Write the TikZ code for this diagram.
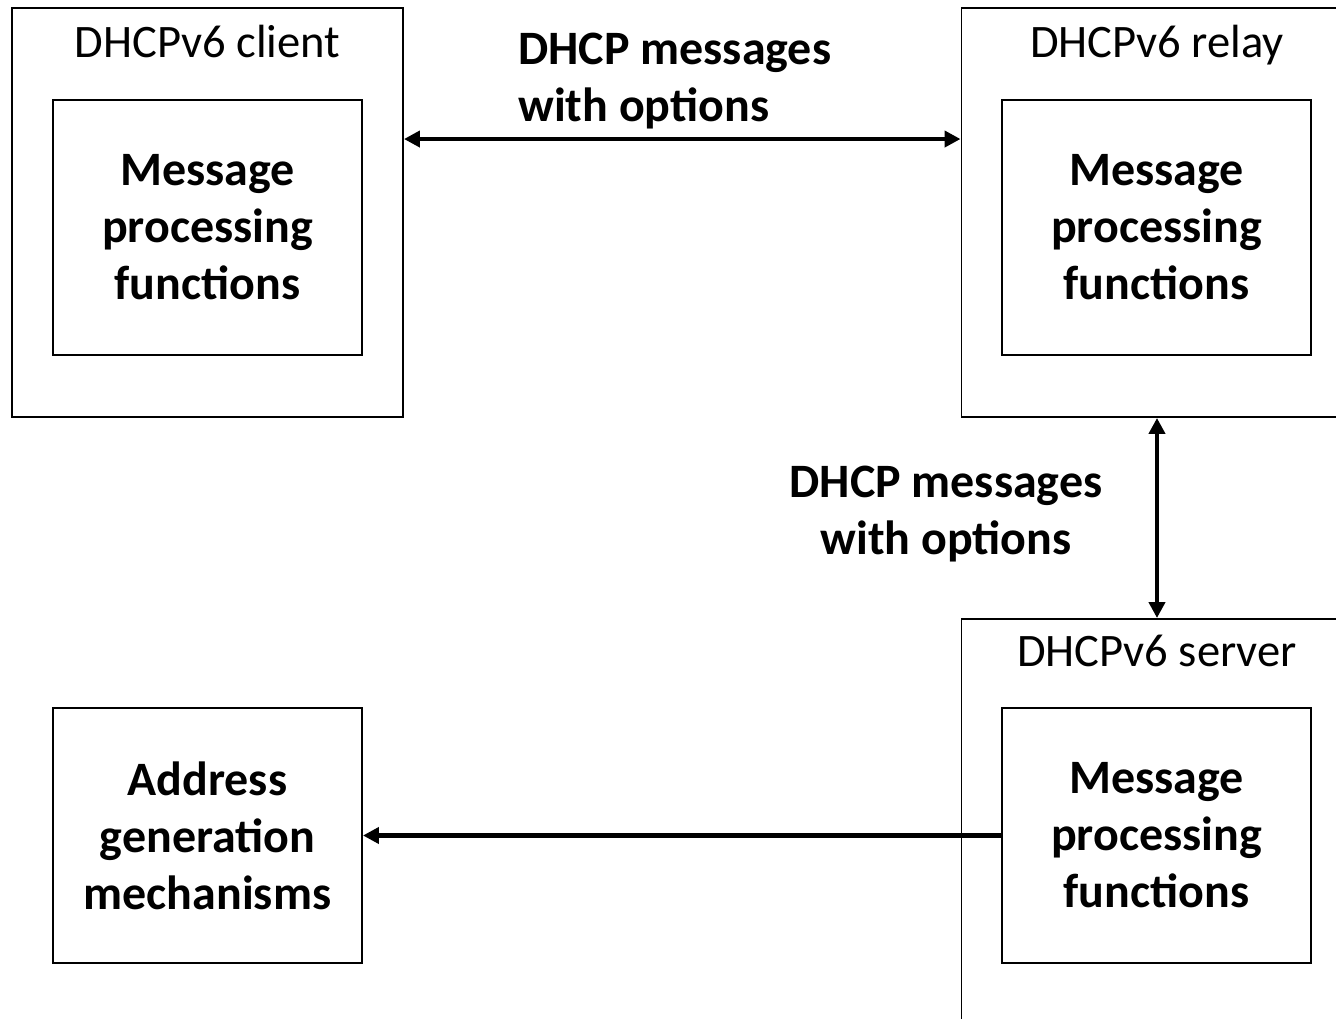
\documentclass[tikz,border=0pt]{standalone}
\usepackage{fontspec}
\setmainfont{Carlito}
\usetikzlibrary{arrows.meta,positioning}
\tikzset{
  host/.style  = {draw, line width=1.1pt, minimum width=78.2mm, minimum height=81.8mm,
                  inner sep=0pt},
  func/.style  = {draw, line width=1.1pt, minimum width=61.8mm, minimum height=51mm,
                  align=center, font=\fontsize{27.3}{32.5}\selectfont\bfseries},
  title/.style = {font=\fontsize{26.5}{30}\selectfont, anchor=base},
  msg/.style   = {font=\fontsize{27.3}{32.5}\selectfont\bfseries, inner sep=0pt},
  link/.style  = {line width=2.4pt, {Triangle[length=3.2mm,width=3.2mm]}-{Triangle[length=3.2mm,width=3.2mm]}},
  onelink/.style = {line width=2.4pt, -{Triangle[length=3.2mm,width=3.2mm]}},
}
\begin{document}
\begin{tikzpicture}[x=0.2mm,y=-0.2mm]
  \useasboundingbox (0,0) rectangle (1336,1019);
  \clip (0,0) rectangle (1336,1019);

  % hosts
  \node[host] (client) at (207.5,212.5) {};
  \node[host] (relay)  at (1157,212.5) {};
  \node[host] (server) at (1157,823.5) {};
  \node[title,below=10mm of client.north,anchor=base] {DHCPv6 client};
  \node[title,below=10mm of relay.north,anchor=base] {DHCPv6 relay};
  \node[title,below=9.6mm of server.north,anchor=base] {DHCPv6 server};

  % functions inside
  \node[func] (cproc) at (207.5,227.5) {Message\\processing\\functions};
  \node[func] (rproc) at (1156.5,227.5) {Message\\processing\\functions};
  \node[func] (sproc) at (1156.5,835.5) {Message\\processing\\functions};
  \node[func] (addr)  at (207.5,835.5) {Address\\generation\\mechanisms};

  % messages
  \draw[link] ([yshift=-26.4mm]client.north east) -- ([yshift=-26.4mm]relay.north west);
  \node[msg,anchor=west,align=left] (msgtop) at (518,81) {DHCP messages\\with options};
  \draw[link] (relay.south) -- (server.north);
  \node[msg,anchor=center,align=center] (msgside) at (946,514) {DHCP messages\\with options};
  \draw[onelink] (sproc.west) -- (addr.east);
\end{tikzpicture}
\end{document}
